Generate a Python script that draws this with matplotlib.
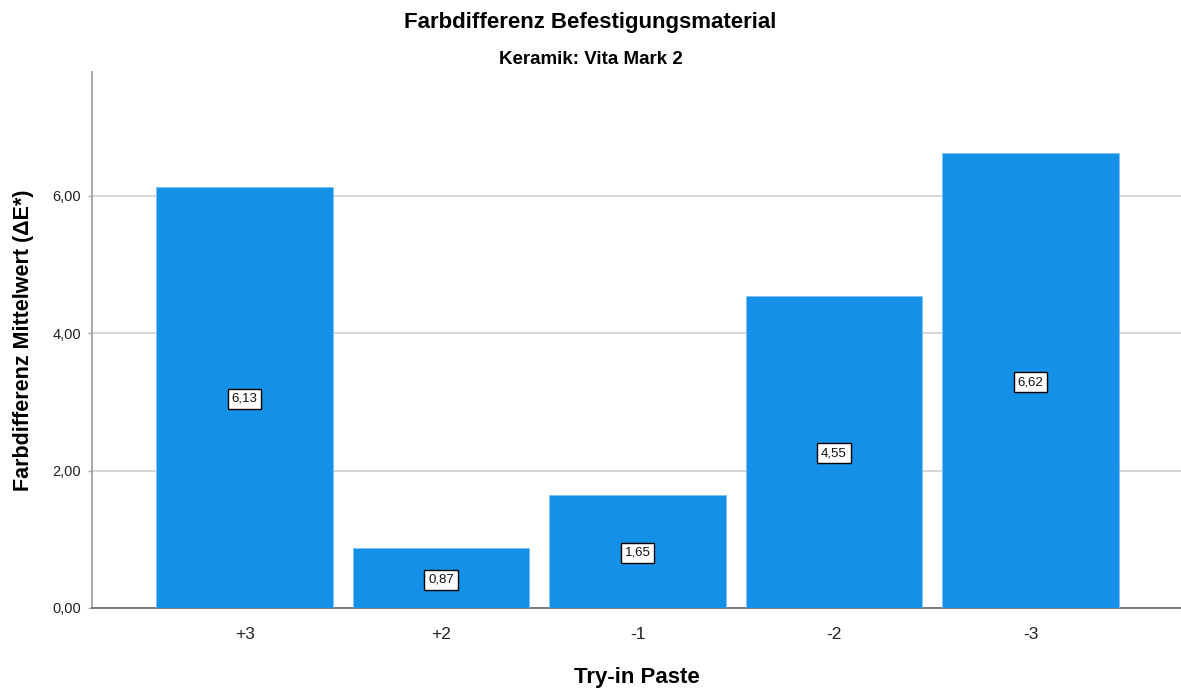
import matplotlib
matplotlib.use("Agg")
import matplotlib.pyplot as plt

plt.rcParams['font.family'] = ['Liberation Sans', 'DejaVu Sans']

categories = ['+3', '+2', '-1', '-2', '-3']
means = [6.13, 0.87, 1.65, 4.55, 6.62]
y_ticks = [0.0, 2.0, 4.0, 6.0]

bar_color = '#1490E6'

fig = plt.figure(figsize=(11.81, 6.89), dpi=100)
ax = fig.add_axes([0.078, 0.1176, 0.922, 0.778])

x = list(range(len(categories)))
ax.bar(x, means, width=0.9, color=bar_color, edgecolor='#7ec3f2', linewidth=0.6, zorder=3)

for xi, v in zip(x, means):
    ax.text(xi, v / 2, f"{v:.2f}".replace('.', ','), ha='center', va='center_baseline',
            fontsize=9.5, color='#111111', zorder=4,
            bbox=dict(boxstyle='square,pad=0.3', facecolor='white', edgecolor='black', linewidth=1.0))

ax.set_xlim(-0.776, 4.766)
ax.set_ylim(0, 7.806)
ax.set_yticks(y_ticks)
ax.set_yticklabels([f"{t:.2f}".replace('.', ',') for t in y_ticks], fontsize=10.5)
ax.set_xticks(x)
ax.set_xticklabels(categories, fontsize=12.5)
ax.tick_params(axis='x', length=0, pad=14, colors='#222222')
ax.tick_params(axis='y', length=3, width=1, color='#aaaaaa', labelcolor='#222222', pad=5)

ax.grid(axis='y', color='#d0d0d0', linewidth=1.2, zorder=1)
ax.set_axisbelow(True)
for s in ['top', 'right']:
    ax.spines[s].set_visible(False)
ax.spines['left'].set_color('#999999')
ax.spines['left'].set_linewidth(1.2)
ax.spines['bottom'].set_color('#666666')
ax.spines['bottom'].set_linewidth(1.2)

ax.set_xlabel('Try-in Paste', fontsize=16, fontweight='bold', labelpad=18)
ax.set_ylabel('Farbdifferenz Mittelwert (ΔE*)', fontsize=15.5, fontweight='bold', labelpad=13)

fig.text(0.5, 0.967, 'Farbdifferenz Befestigungsmaterial', ha='center', va='center',
         fontsize=16, fontweight='bold')
fig.text(0.5, 0.914, 'Keramik: Vita Mark 2', ha='center', va='center',
         fontsize=13.5, fontweight='bold')

fig.savefig('out.png', dpi=100)
